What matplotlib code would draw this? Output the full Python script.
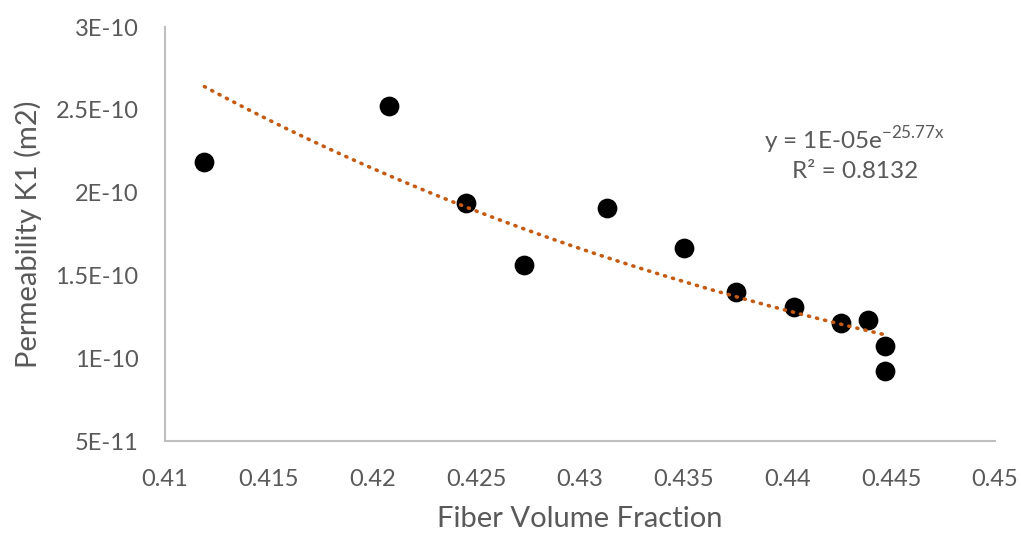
import numpy as np
import matplotlib
matplotlib.use("Agg")
import matplotlib.pyplot as plt

plt.rcParams['font.family'] = ['Lato', 'DejaVu Sans']

# values
fiber_fraction = [0.4119, 0.4208, 0.4245, 0.4273, 0.4313, 0.4350,
                  0.4375, 0.4403, 0.4426, 0.4439, 0.4447, 0.4447]
permeability_k1 = [2.187e-10, 2.524e-10, 1.94e-10, 1.56e-10, 1.91e-10, 1.663e-10,
                   1.398e-10, 1.307e-10, 1.211e-10, 1.229e-10, 1.072e-10, 0.922e-10]
y_ticks = [5e-11, 1e-10, 1.5e-10, 2e-10, 2.5e-10, 3e-10]
y_tick_labels = ["5E-11", "1E-10", "1.5E-10", "2E-10", "2.5E-10", "3E-10"]
x_ticks = [0.41, 0.415, 0.42, 0.425, 0.43, 0.435, 0.44, 0.445, 0.45]
x_tick_labels = ["0.41", "0.415", "0.42", "0.425", "0.43", "0.435", "0.44", "0.445", "0.45"]

GRAY = "#595959"

fig = plt.figure(figsize=(10.21, 5.36), dpi=100)
ax = fig.add_axes([0.1616, 0.1772, 0.8129, 0.7724])

x = np.array(fiber_fraction)
y = np.array(permeability_k1)

# exponential trendline like Excel's
b, ln_a = np.polyfit(x, np.log(y), 1)
xs = np.linspace(x.min(), x.max(), 200)
ax.plot(xs, np.exp(ln_a) * np.exp(b * xs), color="#C55A11", lw=2.6,
        linestyle=(0, (0.3, 2.0)), dash_capstyle="round", zorder=3)

ax.scatter(x, y, s=175, color="black", zorder=2)

ax.set_xlim(0.41, 0.45)
ax.set_ylim(5e-11, 3e-10)
ax.set_xticks(x_ticks)
ax.set_xticklabels(x_tick_labels)
ax.set_yticks(y_ticks)
ax.set_yticklabels(y_tick_labels)
ax.tick_params(length=0, labelsize=17, colors=GRAY)
ax.tick_params(axis="x", pad=20)
ax.tick_params(axis="y", pad=19)

for side in ["top", "right"]:
    ax.spines[side].set_visible(False)
for side in ["left", "bottom"]:
    ax.spines[side].set_color("#BFBFBF")
    ax.spines[side].set_linewidth(1.5)

ax.set_xlabel("Fiber Volume Fraction", fontsize=21, color=GRAY, labelpad=12)
ax.set_ylabel("Permeability K1 (m2)", fontsize=21, color=GRAY, labelpad=10)

ax.text(0.831, 0.727, r"y = 1E-05e$^{\mathregular{-25.77x}}$", transform=ax.transAxes,
        ha="center", va="center", fontsize=17.5, color=GRAY)
ax.text(0.831, 0.650, "R² = 0.8132", transform=ax.transAxes,
        ha="center", va="center", fontsize=17.5, color=GRAY)

fig.savefig("out.png", dpi=100, facecolor="white")
